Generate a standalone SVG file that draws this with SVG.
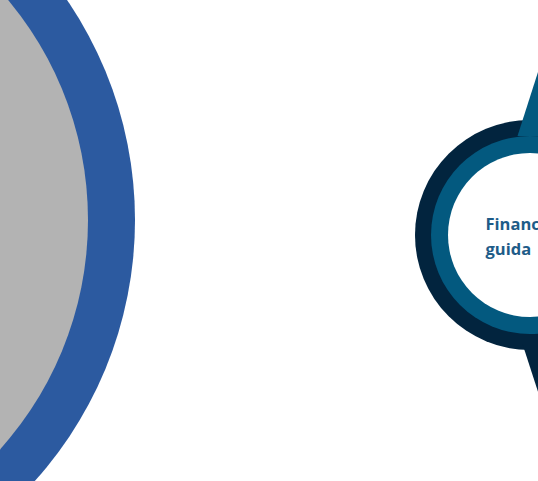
<svg xmlns="http://www.w3.org/2000/svg" width="538" height="481" viewBox="0 0 538 481">
  <style>
    .dark { fill: #02243E; }
    .teal { fill: #03597F; }
    .label { font-family: "Open Sans", "Liberation Sans", Arial, sans-serif; font-weight: bold; font-size: 16.5px; fill: #1E5C88; }
  </style>
  <rect width="538" height="481" fill="#FFFFFF"/>
  <g id="big-circle">
    <circle cx="-255" cy="220" r="390" fill="#2C5AA0"/>
    <circle cx="-255" cy="220" r="343" fill="#B3B3B3"/>
  </g>
  <g id="financial-guidance">
    <circle class="dark" cx="530" cy="235" r="115"/>
    <polygon class="dark" points="522.5,344 540,398 560,398 560,344"/>
    <circle class="teal" cx="530" cy="235" r="99"/>
    <polygon class="teal" points="539,69 517.5,136 560,136 560,69"/>
    <circle cx="530" cy="235" r="82" fill="#FFFFFF"/>
    <text class="label" x="485.5" y="230">Financ</text>
    <text class="label" x="485.5" y="255">guida</text>
  </g>
</svg>
